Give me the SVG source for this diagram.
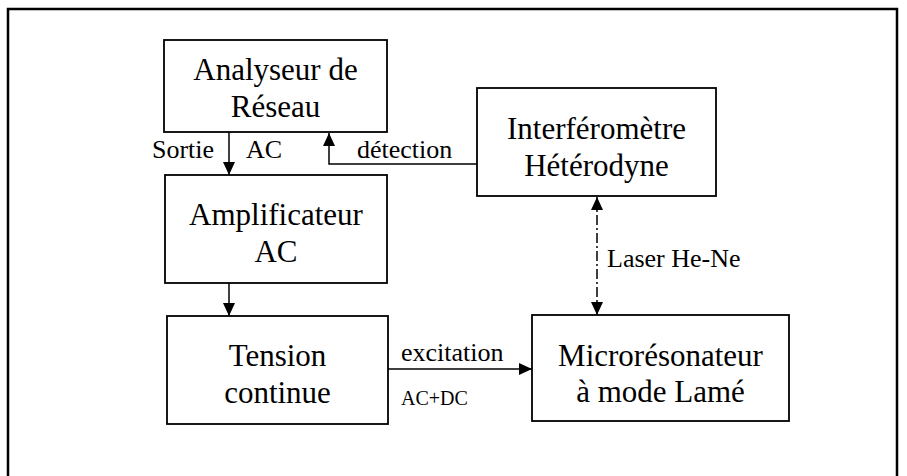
<svg xmlns="http://www.w3.org/2000/svg" width="907" height="476" viewBox="0 0 907 476">
<style>
.box{fill:#fff;stroke:#000;stroke-width:1.8}
.t{font-size:31px;fill:#000;text-anchor:middle}
.l{font-size:26px;fill:#000}
.s{font-size:20px;fill:#000}
.c{fill:none;stroke:#000;stroke-width:1.5}
</style>
<defs>
<marker id="ah" viewBox="0 0 13 12" refX="13" refY="6" markerWidth="13" markerHeight="12" markerUnits="userSpaceOnUse" orient="auto-start-reverse">
<path d="M0,0 L13,6 L0,12 Z" fill="#000"/>
</marker>
</defs>
<rect width="907" height="476" fill="#fff"/>
<path d="M8,476 V9 H897 V476" fill="none" stroke="#000" stroke-width="2.5"/>
<g font-family="Liberation Serif, Times New Roman, Times, serif">
<g id="connectors">
<line class="c" x1="229" y1="132" x2="229" y2="175" marker-end="url(#ah)"/>
<polyline class="c" points="477,164 329,164 329,133" marker-end="url(#ah)"/>
<line class="c" x1="229" y1="283" x2="229" y2="316" marker-end="url(#ah)"/>
<line class="c" x1="388" y1="369" x2="532" y2="369" marker-end="url(#ah)"/>
<line class="c" x1="597" y1="197" x2="597" y2="315" stroke-dasharray="10,3,2,3" marker-start="url(#ah)" marker-end="url(#ah)"/>
<text class="l" x="152" y="158">Sortie</text>
<text class="l" x="246" y="158">AC</text>
<text class="l" x="357" y="158">détection</text>
<text class="l" x="607" y="267">Laser He-Ne</text>
<text class="l" x="401" y="361">excitation</text>
<text class="s" x="401" y="405">AC+DC</text>
</g>
<g id="analyseur">
<rect class="box" x="164" y="40" width="223" height="92"/>
<text class="t" x="275.5" y="80">Analyseur de</text>
<text class="t" x="275.5" y="117">Réseau</text>
</g>
<g id="interferometre">
<rect class="box" x="477" y="88" width="239" height="108"/>
<text class="t" x="596.5" y="139">Interféromètre</text>
<text class="t" x="596.5" y="176">Hétérodyne</text>
</g>
<g id="amplificateur">
<rect class="box" x="165" y="175" width="222" height="108"/>
<text class="t" x="276" y="225">Amplificateur</text>
<text class="t" x="276" y="262">AC</text>
</g>
<g id="tension">
<rect class="box" x="167" y="316" width="221" height="108"/>
<text class="t" x="277.5" y="366">Tension</text>
<text class="t" x="277.5" y="403">continue</text>
</g>
<g id="microresonateur">
<rect class="box" x="532" y="315" width="257" height="106"/>
<text class="t" x="660.5" y="366">Microrésonateur</text>
<text class="t" x="660.5" y="402">à mode Lamé</text>
</g>
</g>
</svg>
